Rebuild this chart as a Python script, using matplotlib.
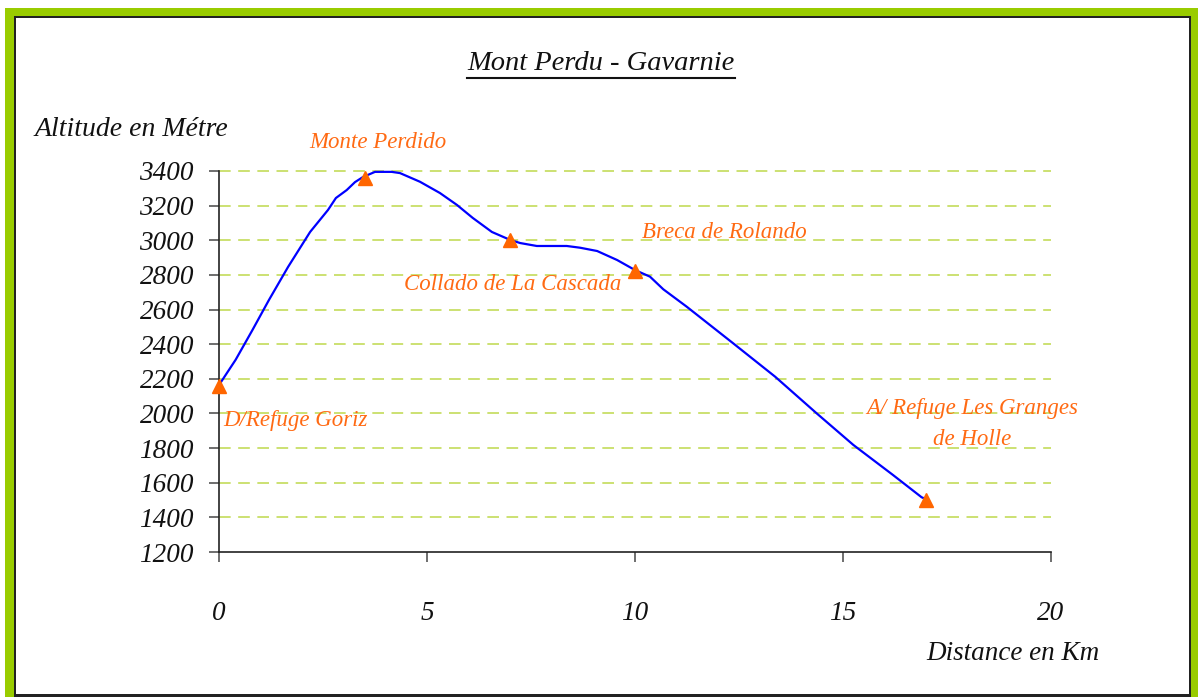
import matplotlib
matplotlib.use("Agg")
import matplotlib.pyplot as plt
from matplotlib.patches import Rectangle
from matplotlib.lines import Line2D

# ---- data ----
distance = [0.0, 0.4, 0.8, 1.2, 1.66, 2.19, 2.62, 2.81, 3.07, 3.27, 3.46, 3.75,
            4.15, 4.35, 4.83, 5.31, 5.72, 6.1, 6.56, 7.0, 7.24, 7.64, 8.36, 8.68,
            9.09, 9.57, 10.0, 10.36, 10.68, 11.24, 12.36, 13.37, 14.37, 15.25,
            16.2, 16.89, 17.0]
altitude = [2164, 2310, 2480, 2655, 2846, 3048, 3175, 3244, 3290, 3336, 3365, 3395,
            3395, 3388, 3338, 3273, 3204, 3129, 3048, 3002, 2984, 2967, 2967, 2957,
            2938, 2886, 2828, 2790, 2717, 2617, 2405, 2212, 2000, 1818,
            1645, 1516, 1505]

point_dist = [0, 3.5, 7, 10, 17]
point_alt = [2160, 3360, 3000, 2825, 1500]
point_labels = ["D/Refuge Goriz", "Monte Perdido", "Collado de La Cascada",
                "Breca de Rolando", "A/ Refuge Les Granges\nde Holle"]
label_pos = [(1.83, 1962), (3.82, 3562), (7.05, 2742), (12.16, 3042), (18.1, 1939)]

y_ticks = [1200, 1400, 1600, 1800, 2000, 2200, 2400, 2600, 2800, 3000, 3200, 3400]
x_ticks = [0, 5, 10, 15, 20]

W, H = 1198, 697
fig = plt.figure(figsize=(W / 100, H / 100), dpi=100)
fig.patch.set_facecolor("white")

FONT = "Liberation Serif"
ORANGE = "#FF6A13"
GREEN = "#99CC00"

# frame
def rect_px(x0, y0, x1, y1, color):
    fig.patches.append(Rectangle((x0 / W, 1 - y1 / H), (x1 - x0) / W, (y1 - y0) / H,
                                 transform=fig.transFigure, facecolor=color,
                                 edgecolor="none", zorder=0))
rect_px(5, 8, 1198, 16, GREEN)
rect_px(5, 8, 14, 697, GREEN)
rect_px(1191, 8, 1198, 697, GREEN)
rect_px(14, 16, 1191, 18, "#222222")
rect_px(14, 16, 16, 697, "#222222")
rect_px(1189, 16, 1191, 697, "#222222")
rect_px(14, 694, 1191, 697, "#222222")

ax = fig.add_axes([219 / W, 1 - 552 / H, (1051 - 219) / W, (552 - 171) / H])
ax.set_xlim(0, 20)
ax.set_ylim(1200, 3400)
ax.set_facecolor("none")

for v in y_ticks[1:]:
    ax.axhline(v, color="#C4DC5A", lw=1.2, dashes=(7, 4.5), zorder=1, clip_on=False)

ax.plot(distance, altitude, color="#0000FF", lw=1.6, zorder=3, clip_on=False)
ax.plot(point_dist, point_alt, linestyle="none", marker="^", markersize=10,
        color="#FF6600", zorder=4, clip_on=False)

for (lx, ly), txt in zip(label_pos, point_labels):
    ax.text(lx, ly, txt, ha="center", va="center", color=ORANGE, fontsize=16.5,
            family=FONT, style="italic", linespacing=1.65)

for s in ["top", "right"]:
    ax.spines[s].set_visible(False)
for s in ["left", "bottom"]:
    ax.spines[s].set_color("#222222")
    ax.spines[s].set_linewidth(1.2)

ax.set_yticks(y_ticks)
ax.set_xticks(x_ticks)
ax.set_yticklabels([str(v) for v in y_ticks])
ax.set_xticklabels([str(v) for v in x_ticks])
ax.tick_params(axis="y", direction="out", length=7, width=1.2, color="#555555", pad=11)
ax.tick_params(axis="x", direction="out", length=7, width=1.2, color="#555555", pad=28)
for lab in ax.get_yticklabels() + ax.get_xticklabels():
    lab.set_family(FONT)
    lab.set_style("italic")
    lab.set_fontsize(19.5)
    lab.set_color("#111111")

# title with underline
title = fig.text(601 / W, 1 - 64 / H, "Mont Perdu - Gavarnie", ha="center", va="center",
                 fontsize=20.5, family=FONT, style="italic", color="#111111")
fig.text(35 / W, 1 - 129 / H, "Altitude en Métre", ha="left", va="center",
         fontsize=20, family=FONT, style="italic", color="#111111")
fig.text(1100 / W, 1 - 653 / H, "Distance en Km", ha="right", va="center",
         fontsize=19.5, family=FONT, style="italic", color="#111111")

fig.canvas.draw()
bb = title.get_window_extent(renderer=fig.canvas.get_renderer())
fig.lines.append(Line2D([bb.x0 / W, bb.x1 / W], [1 - 78 / H, 1 - 78 / H],
                        transform=fig.transFigure, color="#111111", lw=1.5))

fig.savefig("out.png", dpi=100, facecolor="white")
